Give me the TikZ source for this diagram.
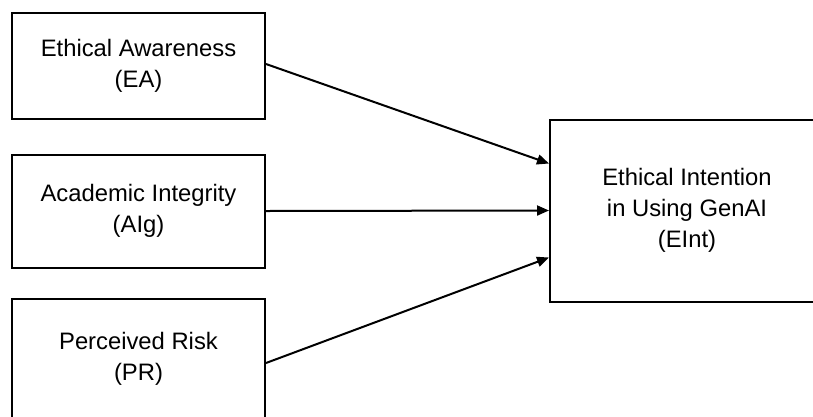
\documentclass[tikz,border=0pt]{standalone}
\usepackage{fontspec}
\setmainfont{Liberation Sans}
\usetikzlibrary{arrows.meta}
\begin{document}
\begin{tikzpicture}[x=1pt,y=-1pt,
  box/.style={draw=black, line width=2pt, align=center, inner sep=0pt,
    font=\fontsize{23.8}{31}\selectfont, text=black},
  conn/.style={draw=black, line width=2pt, -{Triangle[length=12pt,width=10pt]}}]
\useasboundingbox (0,0) rectangle (813,416);
\clip (0,0) rectangle (813,416);
\fill[white] (0,0) rectangle (813,416);
\node[box, minimum width=253pt, minimum height=106pt] (ea) at (138.5,65.5) {Ethical Awareness\\(EA)};
\node[box, minimum width=253pt, minimum height=113pt] (aig) at (138.5,211) {Academic Integrity\\(AIg)};
\node[box, minimum width=253pt, minimum height=119pt] (pr) at (138.5,358.5) {Perceived Risk\\(PR)};
\node[box, minimum width=274pt, minimum height=182pt] (ei) at (687,210.5) {Ethical Intention\\in Using GenAI\\(EInt)};
\draw[conn] ([yshift=1.5pt]ea.east) -- ([yshift=47pt]ei.west);
\draw[conn] (aig.east) -- (ei.west);
\draw[conn] ([yshift=-4.5pt]pr.east) -- ([yshift=-47pt]ei.west);
\end{tikzpicture}
\end{document}
